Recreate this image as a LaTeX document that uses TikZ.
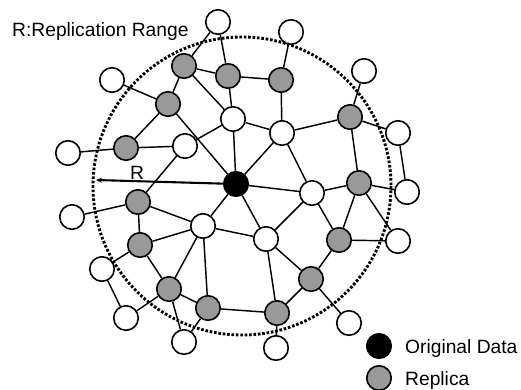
\documentclass[tikz,border=0pt]{standalone}
\usepackage{fontspec}
\setmainfont{Liberation Sans}
\usetikzlibrary{arrows.meta,backgrounds}
\definecolor{replgray}{RGB}{153,153,153}
\begin{document}
\begin{tikzpicture}[x=1bp,y=-1bp,
  peer/.style={circle,draw,line width=1.6bp,minimum size=24.5bp,inner sep=0pt,fill=white},
  replica/.style={peer,fill=replgray},
  origin/.style={peer,fill=black},
  link/.style={line width=1.45bp},
  rangeline/.style={line width=2.9bp,dash pattern=on 2.6bp off 1.8bp},
  lbl/.style={font=\fontsize{19.3}{21}\selectfont,inner sep=0pt,anchor=base west}]
\useasboundingbox (0,0) rectangle (521,389);

% original data
\node[origin] (B) at (236,184) {};

% replicas
\node[replica] (G1) at (184,66) {};
\node[replica] (G2) at (228,76) {};
\node[replica] (G3) at (168,104) {};
\node[replica] (G4) at (126,148) {};
\node[replica] (G5) at (281,80) {};
\node[replica] (G6) at (350,117) {};
\node[replica] (G7) at (359,183) {};
\node[replica] (G8) at (138,202) {};
\node[replica] (G9) at (140,245) {};
\node[replica] (G10) at (169,289) {};
\node[replica] (G11) at (208,308) {};
\node[replica] (G12) at (339,240) {};
\node[replica] (G13) at (311,279) {};
\node[replica] (G14) at (277,313) {};

% plain peers
\node[peer] (W1) at (218,22) {};
\node[peer] (W2) at (112,80) {};
\node[peer] (W3) at (233,119) {};
\node[peer] (W4) at (68,153) {};
\node[peer] (W5) at (185,146) {};
\node[peer] (W6) at (291,32) {};
\node[peer] (W7) at (364,71) {};
\node[peer] (W8) at (282,133) {};
\node[peer] (W9) at (398,133) {};
\node[peer] (W10) at (407,192) {};
\node[peer] (Wc) at (312,193) {};
\node[peer] (Wl) at (72,217) {};
\node[peer] (W12) at (203,226) {};
\node[peer] (W13) at (102,269) {};
\node[peer] (W14) at (126,318) {};
\node[peer] (W15) at (184,342) {};
\node[peer] (Wm) at (266,239) {};
\node[peer] (W16) at (398,241) {};
\node[peer] (W17) at (349,323) {};
\node[peer] (W18) at (276,348) {};

% overlay links
\begin{scope}[on background layer]
\foreach \a/\b in {W1/G1,W1/G2,G1/G2,G1/G3,G1/W3,G2/W3,G2/G5,W2/G3,G3/G4,G3/B,
  G4/W4,G4/W5,W5/W3,W5/G8,W3/B,W6/G5,G5/W8,W8/W3,W8/G6,W8/B,W8/Wc,
  G6/W7,G6/W9,G6/G7,W9/W10,G7/W10,B/Wc,Wc/G7,Wc/Wm,Wc/G12,G7/G12,G7/W16,
  G12/W16,B/Wm,B/W12,W12/Wm,G8/Wl,G8/W12,G8/G9,G9/W12,G9/W13,G9/G10,
  W12/G10,W12/G11,Wm/G13,Wm/G14,G10/G11,G10/W14,G10/W15,G11/G14,G11/W15,
  W13/W14,G12/G13,G13/G14,G13/W17,G14/W18}
  \draw[link] (\a) -- (\b);
\end{scope}

% replication range
\coordinate (C) at (242,186);
\draw[rangeline] (C) circle[radius=149];
\coordinate (Rtip) at (96,180);
\draw[line width=2.1bp,-{Stealth[length=6bp,width=5bp]}] (B) -- (Rtip);
\node[lbl] (Rlbl) at (130,179) {R};
\node[lbl] (title) at (12,36) {R:Replication Range};

% legend
\node[origin] (legB) at (379,346) {};
\node[replica] (legG) at (379,378) {};
\node[lbl] (legBt) at (405,353) {Original Data};
\node[lbl] (legGt) at (405,385) {Replica};
\end{tikzpicture}
\end{document}
